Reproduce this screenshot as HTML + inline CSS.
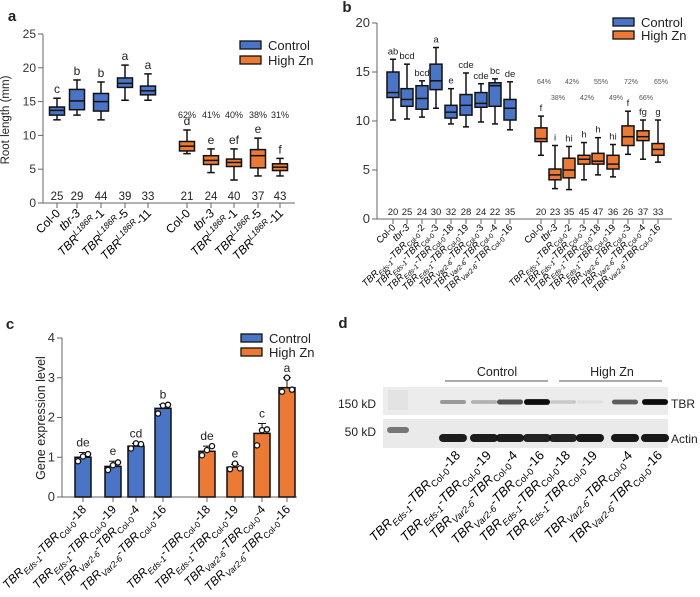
<!DOCTYPE html>
<html><head><meta charset="utf-8"><style>
body{margin:0;background:#fff;}
svg{display:block;font-family:"Liberation Sans",Arial,sans-serif;}
</style></head><body>
<svg id="fig" width="700" height="597" viewBox="0 0 700 597">
<g id="pa"></g>
<g id="pb"></g>
<g id="pc"></g>
<g id="pd"></g>
</svg>
<script>
// ---------- Panel a data ----------
const aLabels = [["Col-0"],["tbr-3","i"],["TBR","i","L186R","sup","-1"],["TBR","i","L186R","sup","-5"],["TBR","i","L186R","sup","-11"]];
const aControl = [[12.3,13.0,13.7,14.2,15.5],[13.0,13.8,15.1,16.8,18.2],[12.3,13.6,15.0,16.2,17.9],[15.2,17.1,17.7,18.5,20.4],[15.2,16.0,16.6,17.3,19.1]];
const aHigh = [[7.3,7.7,8.4,9.1,10.8],[4.5,5.7,6.3,7.0,8.0],[3.4,5.4,6.0,6.5,8.0],[4.0,5.2,7.0,7.9,9.6],[4.0,4.8,5.3,5.8,6.6]];
const aLettersC = ["c","b","b","a","a"];
const aLettersH = ["d","e","ef","e","f"];
const aNC = [25,29,44,39,33];
const aNH = [21,24,40,37,43];
const aPct = ["62%","41%","40%","38%","31%"];
const aTicks = [0,5,10,15,20,25];
// ---------- Panel b data ----------
const bLabels = [["Col-0"],["tbr-3","i"],["E","-2"],["E","-3"],["E","-18"],["E","-19"],["V","-3"],["V","-4"],["V","-16"]];
const bControl = [[10.1,12.4,12.9,15.0,16.3],[10.2,11.5,12.2,13.3,15.8],[10.4,11.2,12.3,13.6,14.1],[11.3,13.2,14.1,15.8,17.5],[9.7,10.3,10.9,11.6,13.3],[9.4,10.6,11.6,12.7,14.9],[9.9,11.4,11.8,12.9,13.8],[9.7,11.5,13.6,13.9,14.3],[9.1,10.1,11.3,12.2,14.0]];
const bHigh = [[6.5,7.9,8.2,9.3,10.5],[3.1,4.0,4.5,5.1,7.5],[3.0,4.2,5.0,6.2,7.4],[4.0,5.6,6.1,6.5,7.8],[4.5,5.6,5.9,6.7,8.3],[4.3,5.1,5.6,6.5,7.6],[6.6,7.5,8.4,9.5,11.0],[6.1,8.0,8.4,9.0,10.1],[5.8,6.5,7.1,7.7,10.1]];
const bLettersC = ["ab","bcd","bcd","a","e","cde","cde","bc","de"];
const bLettersH = ["f","i","hi","h","h","hi","f","fg","g"];
const bNC = [20,25,24,30,32,28,24,22,35];
const bNH = [20,23,35,45,47,36,26,37,33];
const bPct = ["64%","38%","42%","42%","55%","49%","72%","66%","65%"];
const bTicks = [0,5,10,15,20];
// ---------- Panel c data ----------
const cLabels = [["E","-18"],["E","-19"],["V","-4"],["V","-16"]];
const cControl = [1.0,0.77,1.28,2.23];
const cHigh = [1.15,0.75,1.6,2.75];
const cErrC = [0.12,0.13,0.07,0.1];
const cErrH = [0.13,0.07,0.25,0.25];
const cPtsC = [[0.9,1.02,1.08],[0.68,0.8,0.87],[1.22,1.35,1.33],[2.1,2.3,2.32]];
const cPtsH = [[1.05,1.18,1.28],[0.7,0.84,0.72],[1.3,1.68,1.7],[2.65,3.0,2.7]];
const cLettersC = ["de","e","cd","b"];
const cLettersH = ["de","e","c","a"];
const cTicks = [0,1,2,3,4];
// ---------- Panel d data ----------
const dTBR = [0.35,0.25,0.65,0.95,0.15,0.05,0.6,0.95];
const dActin = [0.95,0.95,0.95,0.92,0.92,0.97,0.97,0.97];

const NS="http://www.w3.org/2000/svg";
const BLUE="#4a74c6", ORANGE="#ec7a35";
function el(parent,tag,attrs,text){const e=document.createElementNS(NS,tag);for(const k in attrs)e.setAttribute(k,attrs[k]);if(text!==undefined)e.textContent=text;parent.appendChild(e);return e;}
function ts(t,txt,opt){const s=el(t,"tspan",opt||{},txt);return s;}

function label(g,x,y,spec,fs){
  const t=el(g,"text",{x:0,y:0,"font-size":fs,"text-anchor":"end",transform:`translate(${x},${y}) rotate(-45)`});
  
  
  const sub=fs*0.72;
  if(spec[0]==="E"||spec[0]==="V"){
    ts(t,"TBR",{"font-style":"italic"});
    ts(t,spec[0]==="E"?"Eds-1":"Var2-6",{"font-size":sub,"font-style":"italic",dy:fs*0.3});
    ts(t,"-",{dy:-fs*0.3});
    ts(t,"TBR",{"font-style":"italic"});
    ts(t,"Col-0",{"font-size":sub,dy:fs*0.3});
    ts(t,spec[1],{dy:-fs*0.3});
  } else if(spec.length===1){ts(t,spec[0]);}
  else if(spec.length===2){ts(t,spec[0],{"font-style":"italic"});}
  else {
    ts(t,"TBR",{"font-style":"italic"});
    ts(t,spec[2],{"font-size":sub,"font-style":"italic",dy:-fs*0.4});
    ts(t,spec[4],{dy:fs*0.4});
  }
}
function legend(g,x,y,fs,gap){
  [["Control",BLUE],["High Zn",ORANGE]].forEach((d,i)=>{
    const r=el(g,"rect",{x:x,y:y+i*gap-4,width:21,height:8,fill:d[1],stroke:"#111","stroke-width":1.3});
    
    
    const t=el(g,"text",{x:x+28,y:y+i*gap+5,"font-size":fs,fill:"#222"},d[0]);
    
    
  });
}
function axisY(g,x,yfn,ticks,fs,x1){
  el(g,"line",{x1:x,x2:x,y1:yfn(ticks[0]),y2:yfn(ticks[ticks.length-1]),stroke:"#666","stroke-width":1});
  el(g,"line",{x1:x,x2:x1,y1:yfn(ticks[0]),y2:yfn(ticks[0]),stroke:"#666","stroke-width":1});
  ticks.forEach(v=>{
    el(g,"line",{x1:x-5,x2:x,y1:yfn(v),y2:yfn(v),stroke:"#666"});
    const t=el(g,"text",{x:x-7,y:yfn(v)+4,"font-size":fs,"text-anchor":"end",fill:"#333"},v);
    
    
  });
}
function box(g,cx,w,yfn,d,col,name){
  const gg=el(g,"g",{});
  
  
  el(gg,"line",{x1:cx,x2:cx,y1:yfn(d[0]),y2:yfn(d[4]),stroke:"#111","stroke-width":1.5});
  el(gg,"line",{x1:cx-w/4,x2:cx+w/4,y1:yfn(d[0]),y2:yfn(d[0]),stroke:"#111","stroke-width":1.5});
  el(gg,"line",{x1:cx-w/4,x2:cx+w/4,y1:yfn(d[4]),y2:yfn(d[4]),stroke:"#111","stroke-width":1.5});
  el(gg,"rect",{x:cx-w/2,y:yfn(d[3]),width:w,height:yfn(d[1])-yfn(d[3]),fill:col,stroke:"#111","stroke-width":1.5});
  el(gg,"line",{x1:cx-w/2,x2:cx+w/2,y1:yfn(d[2]),y2:yfn(d[2]),stroke:"#111","stroke-width":1.5});
}
function txt(g,x,y,s,fs,name,extra){const t=el(g,"text",Object.assign({x:x,y:y,"font-size":fs,"text-anchor":"middle",fill:"#222"},extra||{}),s);return t;}

// ---------- Panel a ----------
(function(){
  const g=document.getElementById("pa");
  txt(g,12,21,"a",15,"panel-label",{"font-weight":"bold"});
  const y=v=>203-v*6.76;
  const xC=[57,77,101,125,148], xH=[187,211,234,258,280];
  axisY(g,43,y,aTicks,12,295);
  txt(g,0,0,"Root length (mm)",11.5,"y-axis-title",{transform:"translate(9,120) rotate(-90)"});
  [xC,xH].forEach((xs,k)=>{
    const data=k?aHigh:aControl, lets=k?aLettersH:aLettersC, ns=k?aNH:aNC;
    xs.forEach((cx,i)=>{
      el(g,"line",{x1:cx,x2:cx,y1:203,y2:208,stroke:"#666"});
      box(g,cx,15,y,data[i],k?ORANGE:BLUE,"box-"+(k?"high-zn-":"control-")+i);
      txt(g,cx,y(data[i][4])-5,lets[i],12,"significance-letter");
      txt(g,cx,200,ns[i],11.5,"n-count");
      if(k) txt(g,cx,118,aPct[i],9,"percent-label");
      label(g,cx+4,214,aLabels[i],12);
    });
  });
  legend(g,240,45,13,15);
})();
// ---------- Panel b ----------
(function(){
  const g=document.getElementById("pb");
  txt(g,347,12,"b",15,"panel-label",{"font-weight":"bold"});
  const y=v=>219-v*9.8;
  const xC=[393,407,422,436,451,466,481,495,510], xH=[541,555,569,584,598,613,628,643,658];
  axisY(g,377,y,bTicks,13,672);
  [xC,xH].forEach((xs,k)=>{
    const data=k?bHigh:bControl, lets=k?bLettersH:bLettersC, ns=k?bNH:bNC;
    xs.forEach((cx,i)=>{
      el(g,"line",{x1:cx,x2:cx,y1:219,y2:224,stroke:"#666"});
      box(g,cx,12,y,data[i],k?ORANGE:BLUE,"box-"+(k?"high-zn-":"control-")+i);
      txt(g,cx,y(data[i][4])-5,lets[i],9.5,"significance-letter");
      txt(g,cx,215,ns[i],9.5,"n-count");
      if(k) txt(g,cx+3,i%2?100:84,bPct[i],7,"percent-label",{fill:"#555"});
      label(g,cx+3,228,bLabels[i],9.5);
    });
  });
  legend(g,613,22,13,13);
})();
// ---------- Panel c ----------
(function(){
  const g=document.getElementById("pc");
  txt(g,10,329,"c",15,"panel-label",{"font-weight":"bold"});
  const y=v=>497-v*39.75;
  const xC=[83,113,136,163], xH=[207,235,262,287];
  axisY(g,62,y,cTicks,13,297);
  txt(g,0,0,"Gene expression level",12.5,"y-axis-title",{transform:"translate(45,418) rotate(-90)"});
  [xC,xH].forEach((xs,k)=>{
    const vals=k?cHigh:cControl, errs=k?cErrH:cErrC, pts=k?cPtsH:cPtsC, lets=k?cLettersH:cLettersC;
    xs.forEach((cx,i)=>{
      el(g,"line",{x1:cx,x2:cx,y1:497,y2:502,stroke:"#666"});
      const r=el(g,"rect",{x:cx-8,y:y(vals[i]),width:16,height:497-y(vals[i]),fill:k?ORANGE:BLUE,stroke:"#111","stroke-width":1.5});
      
      
      el(g,"line",{x1:cx,x2:cx,y1:y(vals[i]+errs[i]),y2:y(vals[i]),stroke:"#111"});
      el(g,"line",{x1:cx-4,x2:cx+4,y1:y(vals[i]+errs[i]),y2:y(vals[i]+errs[i]),stroke:"#111"});
      pts[i].forEach((p,j)=>{
        const c=el(g,"circle",{cx:cx-5+j*5,cy:y(p),r:2.6,fill:"#fff",stroke:"#111","stroke-width":1.3});
        
        
      });
      txt(g,cx,y(Math.max(vals[i]+errs[i],...pts[i]))-6,lets[i],12,"significance-letter");
      label(g,cx+4,510,cLabels[i],12);
    });
  });
  legend(g,241,338,13,14);
})();
// ---------- Panel d ----------
(function(){
  const g=document.getElementById("pd");
  txt(g,343,328,"d",15,"panel-label",{"font-weight":"bold"});
  const lanes=[453,484,510,537,563,590,625,655];
  const s1=el(g,"rect",{x:383,y:387,width:285,height:28,fill:"#ececec"});
  
  const s2=el(g,"rect",{x:383,y:419,width:285,height:29,fill:"#eaeaea"});
  
  el(g,"rect",{x:388,y:390,width:20,height:20,fill:"#ddd",opacity:0.6});
  el(g,"rect",{x:387,y:427,width:22,height:6,rx:3,fill:"#777"});
  lanes.forEach((x,i)=>{
    const h=3+dTBR[i]*3;
    const b=el(g,"rect",{x:x-13,y:402-h/2,width:26,height:h,rx:h/2,fill:"#000","fill-opacity":dTBR[i]});
    
    const a=el(g,"rect",{x:x-14,y:434,width:28,height:8,rx:4,fill:"#111","fill-opacity":dActin[i]});
    
  });
  txt(g,350,408,"150 kD",12,"marker-150kd",{"text-anchor":"end",x:376});
  txt(g,350,436,"50 kD",12,"marker-50kd",{"text-anchor":"end",x:376});
  txt(g,671,408,"TBR",12,"tbr-label",{"text-anchor":"start"});
  txt(g,671,443,"Actin",12,"actin-label",{"text-anchor":"start"});
  el(g,"line",{x1:445,x2:548,y1:381,y2:381,stroke:"#555"});
  el(g,"line",{x1:559,x2:662,y1:381,y2:381,stroke:"#555"});
  txt(g,497,376,"Control",12.5,"control-group-label");
  txt(g,612,376,"High Zn",12.5,"high-zn-group-label");
  const dl=[["E","-18"],["E","-19"],["V","-4"],["V","-16"],["E","-18"],["E","-19"],["V","-4"],["V","-16"]];
  lanes.forEach((x,i)=>label(g,x+8,456,dl[i],13));
})();
</script>
</body></html>
